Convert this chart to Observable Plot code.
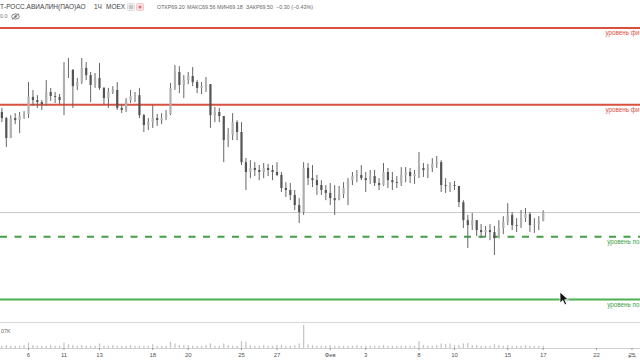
<!DOCTYPE html>
<html><head><meta charset="utf-8">
<script src="https://cdn.jsdelivr.net/npm/d3@7"></script>
<script src="https://cdn.jsdelivr.net/npm/@observablehq/plot@0.6"></script>
<style>
html,body{margin:0;padding:0;background:#fff;overflow:hidden;}
#wrap{position:relative;width:640px;height:360px;overflow:hidden;font-family:"Liberation Sans",Arial,sans-serif;background:#fff;}
#wrap svg{display:block;}
.hdr{position:absolute;white-space:nowrap;line-height:1;color:#555;}
.sep{width:640px;height:1px;background:#d6d6d6;}
</style></head><body><div id="wrap"></div>
<script>
// ---- data (hourly-ish candles, 4 per trading day) ----
const firstOpen = 72.95;
const highs = [
73.09,72.78,72.84,72.91,72.95,72.98,73.98,73.71,73.53,73.36,
74.05,73.78,73.64,73.57,74.67,74.81,74.43,74.12,74.81,74.67,
74.33,74.29,74.64,73.81,73.78,73.84,73.98,73.22,73.43,73.71,
73.64,73.78,72.88,72.74,73.19,72.88,72.91,73.02,73.95,74.57,
74.53,74.22,74.33,74.50,74.05,73.98,74.16,73.91,73.12,73.09,
72.81,72.40,72.91,72.67,72.60,71.36,71.29,71.22,71.12,71.19,
71.16,71.12,71.22,70.88,70.53,70.50,70.26,69.98,71.22,71.19,
71.12,70.78,70.60,70.43,70.50,70.43,70.40,70.53,70.67,70.88,
70.95,71.12,70.88,70.95,70.95,70.67,71.19,71.02,70.88,70.74,
71.05,71.05,71.02,70.95,71.57,71.19,71.16,71.36,71.43,71.29,
70.67,70.53,70.57,70.40,69.91,69.40,69.47,69.22,69.09,69.02,
69.09,69.02,69.22,69.36,69.81,69.50,69.29,69.57,69.64,69.50,
69.29,69.36,69.56];
const lows = [
72.60,71.74,72.05,72.53,72.22,72.71,72.74,73.16,73.09,73.02,
73.16,73.33,73.26,73.22,72.84,74.12,73.09,73.71,73.91,74.05,
73.29,73.78,73.71,73.19,73.09,73.57,73.02,72.91,72.95,73.26,
73.29,72.74,72.26,72.33,72.40,72.47,72.53,72.67,72.84,73.71,
73.60,73.43,73.91,73.84,73.60,73.57,73.64,72.40,72.60,72.60,
71.22,71.74,71.98,71.98,71.12,70.26,70.67,70.74,70.60,70.67,
70.74,70.60,70.74,70.19,70.02,69.91,69.57,69.12,69.40,70.43,
70.36,70.09,70.09,69.91,69.74,69.40,69.91,69.98,69.74,70.43,
70.53,70.60,70.19,70.47,70.40,70.26,70.40,70.33,70.26,70.33,
70.40,70.53,70.50,70.47,70.67,70.71,70.67,70.88,71.02,70.19,
70.16,70.19,70.26,69.67,68.95,68.26,68.88,68.67,68.60,68.64,
68.53,68.02,68.60,68.74,69.05,68.88,68.81,68.95,69.16,68.81,
68.78,68.88,69.18];
const closes = [
72.74,72.05,72.74,72.67,72.81,72.88,73.47,73.36,73.29,73.22,
73.64,73.50,73.47,73.36,74.40,74.40,73.84,73.98,74.47,74.22,
73.88,74.12,73.78,73.43,73.64,73.71,73.09,73.02,73.36,73.50,
73.53,72.84,72.50,72.60,72.74,72.67,72.74,72.88,73.78,74.33,
73.88,74.05,74.19,73.98,73.78,73.84,73.91,72.84,72.95,72.81,
71.98,72.16,72.60,72.26,71.22,70.88,71.02,70.95,70.88,71.02,
70.95,70.88,70.78,70.33,70.26,70.09,69.74,69.50,71.02,70.67,
70.60,70.43,70.26,70.16,69.98,69.91,70.12,70.33,70.60,70.74,
70.78,70.67,70.60,70.74,70.50,70.43,70.88,70.60,70.53,70.50,
70.78,70.88,70.74,70.81,71.02,70.95,71.02,71.16,71.22,70.43,
70.40,70.43,70.40,69.84,69.22,69.05,69.22,68.88,68.81,68.88,
68.81,68.60,68.95,69.16,69.40,69.05,69.02,69.29,69.43,69.05,
69.09,69.20,69.50];
const volumes = [
0.3,0.4,0.3,0.3,0.3,0.4,
0.7,
0.4,0.3,0.3,0.3,0.4,0.3,0.3,
0.7,
0.5,0.4,0.3,0.4,0.3,0.3,0.3,
0.6,
0.3,0.3,0.4,0.3,0.3,0.3,0.4,0.3,0.3,0.3,0.3,
0.5,
0.3,0.3,0.3,
0.8,
0.6,0.4,0.4,
0.4,
0.3,0.3,0.3,0.4,
0.6,
0.3,0.3,
0.6,
0.4,0.3,0.3,
0.9,
0.8,
0.4,0.3,0.3,0.4,0.3,0.3,0.4,
0.4,0.3,0.3,0.4,0.6,
3.0,
0.5,0.4,0.3,0.3,0.3,
0.4,0.3,0.3,0.3,0.3,0.3,0.4,0.3,0.3,0.3,0.3,0.3,0.4,0.3,0.3,0.3,0.3,0.3,0.3,0.3,
0.9,
0.4,0.3,0.3,0.4,
0.6,
0.5,0.6,0.4,0.4,0.6,
0.7,
0.4,0.4,0.3,0.3,0.3,0.5,0.4,0.3,0.4,0.3,0.3,0.3,0.4,0.3,0.3,0.3,0.3];

const candlesPerDay = 4;
const firstCandleDay = -1.5;          // trading-day index of first candle
const tickDays   = [0,2,4,7,9,12,14,17,19,22,24,27,29,32,34];
const tickLabels = ["6","11","13","18","20","25","27","Фев","3","8","10","15","17","22","25"];

const currentPrice = 69.50;
const fiboLevels = [75.86, 73.22];
const supportDashed = 68.67;
const supportSolid = 66.50;
const fiboLabel = "уровень фи";      // visible part of the level label
const supportLabel = "уровень по";

const hdr = {
  name: "Т-РОСС.АВИАЛИН(ПАО)АО", tf: "1Ч", ex: "MOEX",
  o: "69.20", h: "69.56", l: "69.18", c: "69.50", chg: "−0.30 (−0.43%)",
  vol: "07K"
};

// ---- build ----
const candles = closes.map((c, i) => ({
  t: firstCandleDay + i / candlesPerDay,
  open: i === 0 ? firstOpen : closes[i - 1],
  high: highs[i], low: lows[i], close: c, vol: volumes[i] ?? 0
}));
const up = candles.filter(d => d.close >= d.open);
const down = candles.filter(d => d.close < d.open);
const xDomain = [-1.5775, 34.479];
const font = '"Liberation Sans", Arial, sans-serif';
const red = "#d9503f", green = "#43a047";

const pricePlot = Plot.plot({
  width: 640, height: 322, margin: 0,
  style: {fontFamily: font, background: "#fff"},
  x: {domain: xDomain, axis: null},
  y: {domain: [65.71, 76.81], axis: null},
  marks: [
    Plot.ruleY([currentPrice], {stroke: "#c9c9c9", strokeWidth: 1}),
    Plot.ruleY(fiboLevels, {stroke: red, strokeWidth: 2}),
    Plot.ruleY([supportDashed], {stroke: green, strokeWidth: 2, strokeDasharray: "7,7.5"}),
    Plot.ruleY([supportSolid], {stroke: "#4caf50", strokeWidth: 2}),
    Plot.ruleX(candles, {x: "t", y1: "low", y2: "high", stroke: "#666", strokeWidth: 1}),
    Plot.ruleX(up, {x: "t", y1: "open", y2: "close", stroke: "#b0b0b0", strokeWidth: 2.2}),
    Plot.ruleX(down, {x: "t", y1: "open", y2: "close", stroke: "#555", strokeWidth: 2.2}),
    Plot.text(fiboLevels, {y: d => d, text: () => fiboLabel, frameAnchor: "right", textAnchor: "end", dx: -1, dy: 5, fill: red, fontSize: 6.3}),
    Plot.text([supportDashed, supportSolid], {y: d => d, text: () => supportLabel, frameAnchor: "right", textAnchor: "end", dx: -1, dy: 5, fill: green, fontSize: 6.3})
  ]
});

const tickMap = new Map(tickDays.map((d, i) => [d, tickLabels[i]]));
const volPlot = Plot.plot({
  width: 640, height: 37, marginTop: 0, marginBottom: 12, marginLeft: 0, marginRight: 0,
  style: {fontFamily: font, background: "#fff", color: "#555"},
  x: {domain: xDomain, axis: null},
  y: {domain: [0, 3.26], axis: null},
  marks: [
    Plot.ruleX(candles, {x: "t", y1: 0, y2: "vol", stroke: "#c6c6c6", strokeWidth: 1.3}),
    Plot.ruleY([0], {stroke: "#d0d0d0", strokeWidth: 1}),
    Plot.axisX({ticks: tickDays, tickFormat: d => tickMap.get(d), tickSize: 2, tickPadding: 2, fontSize: 6, stroke: "#999", fill: "#555"})
  ]
});

const wrap = document.getElementById("wrap");
wrap.appendChild(pricePlot);
const sep = document.createElement("div"); sep.className = "sep"; wrap.appendChild(sep);
wrap.appendChild(volPlot);

function addText(txt, left, top, size, color, weight) {
  const s = document.createElement("div");
  s.className = "hdr"; s.textContent = txt;
  s.style.left = left + "px"; s.style.top = top + "px";
  s.style.fontSize = size + "px"; s.style.color = color;
  if (weight) s.style.fontWeight = weight;
  wrap.appendChild(s);
}
addText(hdr.name, 0, 4, 6.5, "#444");
addText(hdr.tf, 94, 4, 6.5, "#444");
addText(hdr.ex, 106, 4, 6.5, "#444");
addText("ОТКР" + hdr.o, 157, 5, 5.4, "#666");
addText("МАКС" + hdr.h, 187, 5, 5.4, "#666");
addText("МИН" + hdr.l, 217, 5, 5.4, "#666");
addText("ЗАКР" + hdr.c, 246, 5, 5.4, "#666");
addText(hdr.chg, 276, 5, 5.4, "#666");
addText("0.0", 0, 14, 5.5, "#777");
addText(hdr.vol, 1, 329, 5.5, "#666");

// small UI decorations (legend buttons, eye icon, mouse pointer)
const deco = document.createElement("div");
deco.innerHTML = `
<svg style="position:absolute;left:127px;top:3px" width="18" height="8">
 <rect x="0.5" y="0.5" width="7" height="7" rx="1" fill="#f2f2f2" stroke="#ddd"/>
 <line x1="2" y1="3" x2="6" y2="3" stroke="#999"/><line x1="2" y1="5" x2="6" y2="5" stroke="#999"/>
 <rect x="9.5" y="0.5" width="7" height="7" rx="1" fill="#fbe3e3" stroke="#f3c6c6"/>
 <circle cx="13" cy="4" r="1.6" fill="#e57373"/>
</svg>
<svg style="position:absolute;left:11px;top:13px" width="9" height="7">
 <ellipse cx="4.5" cy="3.5" rx="3.8" ry="2.6" fill="none" stroke="#777" stroke-width="0.9"/>
 <circle cx="4.5" cy="3.5" r="1.2" fill="#777"/>
 <line x1="1" y1="6.5" x2="8" y2="0.5" stroke="#777" stroke-width="0.8"/>
</svg>
<svg style="position:absolute;left:559px;top:291px" width="11" height="15">
 <path d="M1 1 L1 12 L3.8 9.4 L5.8 13.8 L7.6 13 L5.7 8.7 L9.4 8.7 Z" fill="#111" stroke="#fff" stroke-width="0.8"/>
</svg>`;
wrap.appendChild(deco);
</script></body></html>
